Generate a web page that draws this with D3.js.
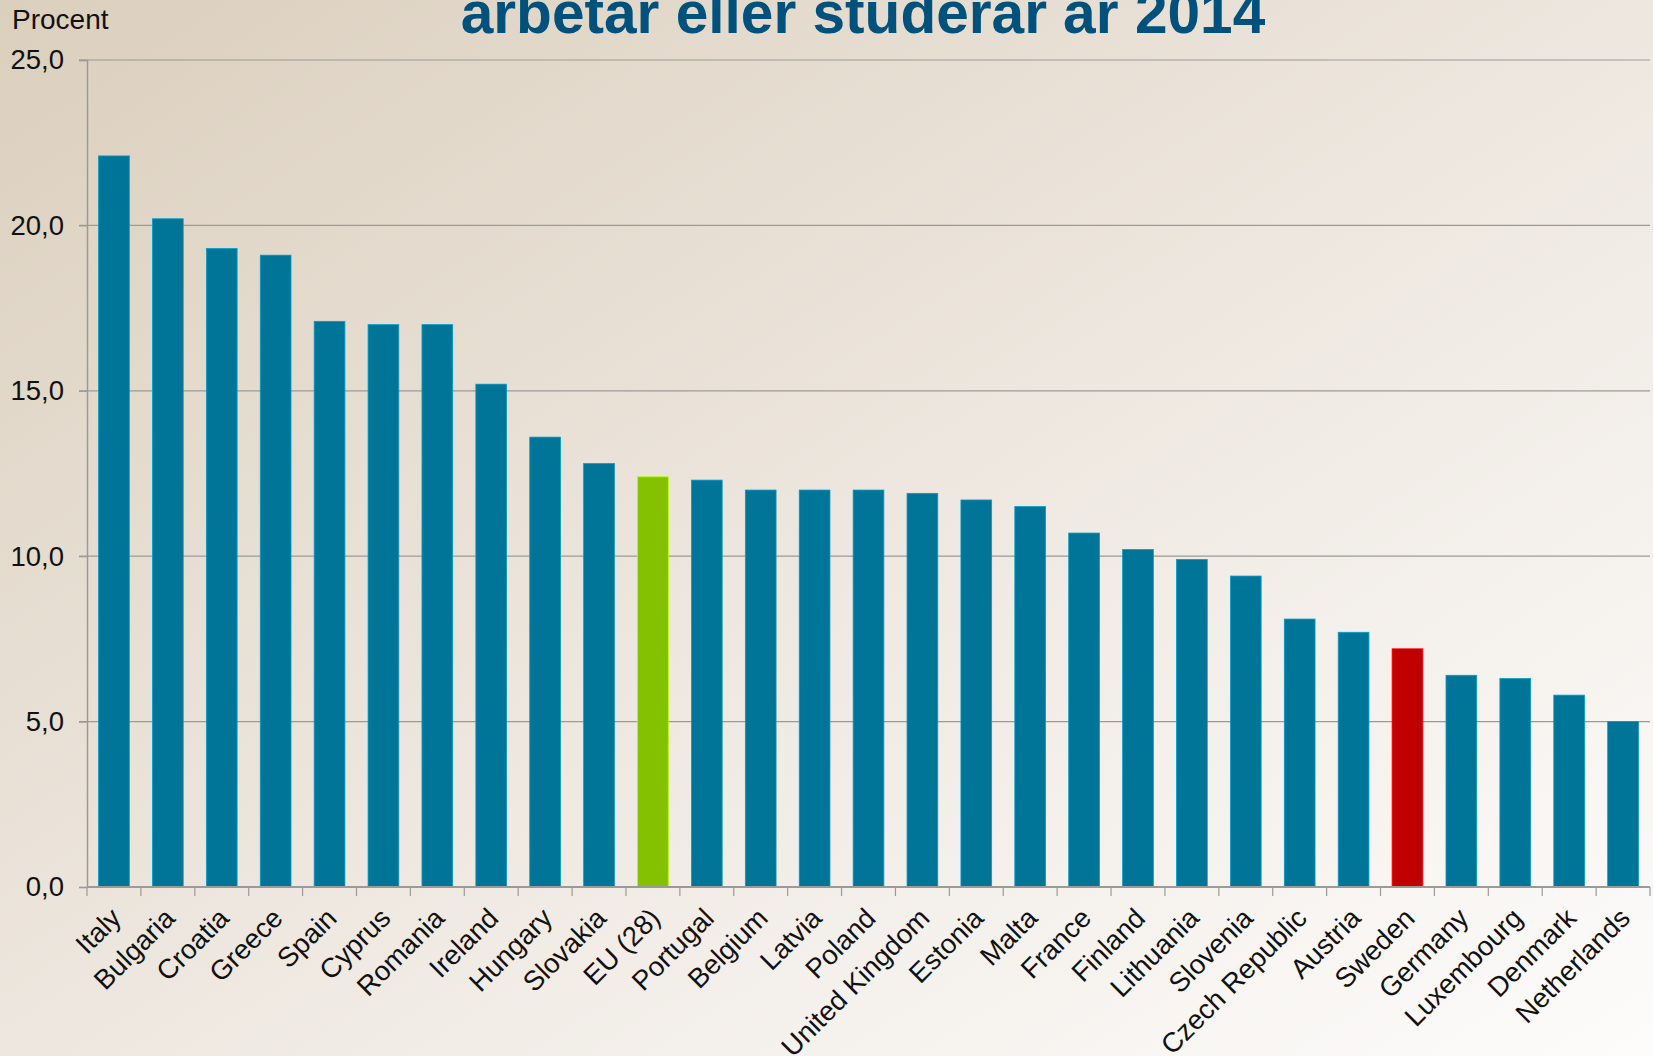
<!DOCTYPE html>
<html>
<head>
<meta charset="utf-8">
<script src="https://cdn.jsdelivr.net/npm/d3@7"></script>
<style>
  body { margin: 0; overflow: hidden; }
  svg { display: block; font-family: "Liberation Sans", Arial, sans-serif; }
</style>
</head>
<body>
<div id="chart"></div>
<script>

// data (percent)
const countries = ["Italy", "Bulgaria", "Croatia", "Greece", "Spain", "Cyprus", "Romania", "Ireland",
  "Hungary", "Slovakia", "EU (28)", "Portugal", "Belgium", "Latvia", "Poland", "United Kingdom",
  "Estonia", "Malta", "France", "Finland", "Lithuania", "Slovenia", "Czech Republic", "Austria",
  "Sweden", "Germany", "Luxembourg", "Denmark", "Netherlands"];
const values = [22.1, 20.2, 19.3, 19.1, 17.1, 17.0, 17.0, 15.2, 13.6, 12.8, 12.4, 12.3, 12.0, 12.0,
  12.0, 11.9, 11.7, 11.5, 10.7, 10.2, 9.9, 9.4, 8.1, 7.7, 7.2, 6.4, 6.3, 5.8, 5.0];
const yTicks = [0, 5, 10, 15, 20, 25];
const title = "arbetar eller studerar år 2014";
const yLabel = "Procent";

const data = countries.map((c, i) => ({ country: c, value: values[i] }));

// chart dimensions
const width = 1653;
const height = 1056;
const marginLeft = 87;
const marginRight = 3;
const marginTop = 60;
const marginBottom = 169;

const x = d3.scaleBand()
  .domain(countries)
  .range([marginLeft, width - marginRight])
  .paddingInner(0.43)
  .paddingOuter(0.215);

const y = d3.scaleLinear()
  .domain([0, 25])
  .range([height - marginBottom, marginTop]);

function barColor(d) {
  if (d.country === "EU (28)") return "#84c100";
  if (d.country === "Sweden") return "#c00000";
  return "#007598";
}

const svg = d3.select("#chart").append("svg")
  .attr("width", width)
  .attr("height", height)
  .attr("viewBox", [0, 0, width, height]);

// background gradient
const defs = svg.append("defs");
const grad = defs.append("linearGradient")
  .attr("id", "bg")
  .attr("x1", "0%").attr("y1", "0%")
  .attr("x2", "100%").attr("y2", "100%");
grad.append("stop").attr("offset", "0%").attr("stop-color", "#dbcfbd");
grad.append("stop").attr("offset", "55%").attr("stop-color", "#efe9e2");
grad.append("stop").attr("offset", "100%").attr("stop-color", "#fdfcfb");

svg.append("rect")
  .attr("width", width)
  .attr("height", height)
  .attr("fill", "url(#bg)");

// gridlines
svg.append("g")
  .selectAll("line")
  .data(yTicks.filter(d => d > 0))
  .join("line")
  .attr("x1", marginLeft - 8)
  .attr("x2", width - marginRight)
  .attr("y1", d => y(d))
  .attr("y2", d => y(d))
  .attr("stroke", "#9c9a97")
  .attr("stroke-width", 1.2);

// bars
svg.append("g")
  .selectAll("rect")
  .data(data)
  .join("rect")
  .attr("x", d => x(d.country))
  .attr("y", d => y(d.value))
  .attr("width", x.bandwidth())
  .attr("height", d => y(0) - y(d.value))
  .attr("fill", barColor)
  .attr("stroke", d => d3.color(barColor(d)).brighter(0.8))
  .attr("stroke-width", 0.8);

// y axis
const yAxis = svg.append("g")
  .attr("transform", `translate(${marginLeft},0)`)
  .call(d3.axisLeft(y)
    .tickValues(yTicks)
    .tickSize(8)
    .tickPadding(15)
    .tickFormat(d => d3.format(".1f")(d).replace(".", ",")));
yAxis.select(".domain").attr("stroke", "#9c9a97").attr("stroke-width", 1.5);
yAxis.selectAll(".tick line").attr("stroke", "#9c9a97").attr("stroke-width", 1.2);
yAxis.selectAll(".tick text")
  .attr("font-size", 27.5)
  .attr("fill", "#111")
  .attr("font-family", "Liberation Sans, Arial, sans-serif");

// x axis
const step = x.step();
const xAxis = svg.append("g")
  .attr("transform", `translate(0,${y(0)})`);
xAxis.append("line")
  .attr("x1", marginLeft)
  .attr("x2", width - marginRight)
  .attr("stroke", "#9c9a97")
  .attr("stroke-width", 2);
xAxis.selectAll("line.tick")
  .data(d3.range(countries.length + 1))
  .join("line")
  .attr("class", "tick")
  .attr("x1", i => x(countries[0]) - x.step() * x.paddingOuter() + i * step)
  .attr("x2", i => x(countries[0]) - x.step() * x.paddingOuter() + i * step)
  .attr("y1", 0)
  .attr("y2", 9)
  .attr("stroke", "#9c9a97")
  .attr("stroke-width", 1.2);

xAxis.selectAll("text")
  .data(countries)
  .join("text")
  .attr("transform", d => `translate(${x(d) + x.bandwidth() / 2 + 2},${26}) rotate(-45)`)
  .attr("text-anchor", "end")
  .attr("dy", "0.35em")
  .attr("font-size", 27.5)
  .attr("fill", "#111")
  .text(d => d);

// axis label
svg.append("text")
  .attr("x", 12)
  .attr("y", 29)
  .attr("font-size", 28)
  .attr("fill", "#111")
  .text(yLabel);

// title (upper line is cut off in the picture)
svg.append("text")
  .attr("x", 863)
  .attr("y", 33)
  .attr("text-anchor", "middle")
  .attr("font-size", 58.6)
  .attr("font-weight", "bold")
  .attr("fill", "#00527c")
  .text(title);

</script>
</body>
</html>
